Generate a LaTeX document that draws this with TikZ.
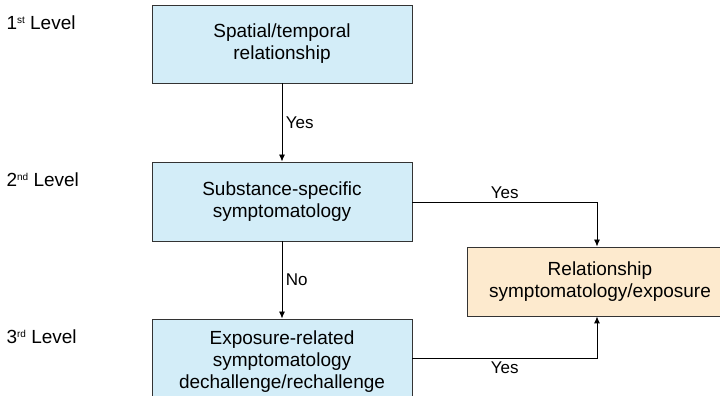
\documentclass[tikz,border=0pt]{standalone}
\usepackage{fontspec}
\setmainfont{Liberation Sans}
\usetikzlibrary{positioning,arrows.meta}
\definecolor{skyfill}{RGB}{211,237,248}
\definecolor{sandfill}{RGB}{253,234,206}
\newcommand{\lvsup}[1]{\raisebox{6pt}{\fontsize{10}{10}\selectfont #1}}
\tikzset{
  levelbox/.style={draw=black!80,line width=0.9pt,fill=skyfill,minimum width=260pt,align=center,font=\fontsize{19}{22}\selectfont},
  resultbox/.style={levelbox,fill=sandfill,minimum width=266pt,minimum height=69pt},
  levellabel/.style={anchor=west,font=\fontsize{19}{22}\selectfont},
  edgelabel/.style={font=\fontsize{17}{20}\selectfont},
  flow/.style={-{Latex[length=7pt,width=6pt]},line width=0.9pt}
}
\begin{document}
\begin{tikzpicture}[x=1pt,y=1pt]
\useasboundingbox (0,0) rectangle (720,396);
\clip (0,0) rectangle (720,396);

\node[levelbox,minimum height=78pt] (spatial) at (282,352) {Spatial/temporal\\relationship};
\node[levelbox,minimum height=79pt] (specific) at (282,194.5) {Substance-specific\\symptomatology};
\node[levelbox,minimum height=86pt] (exposure) at (282,34) {Exposure-related\\symptomatology\\dechallenge/rechallenge};
\node[resultbox] (relation) at (600,114.5) {Relationship\\symptomatology/exposure};

\node[levellabel] (first) at (3,373) {1\lvsup{st} Level};
\node[levellabel] (second) at (3,216) {2\lvsup{nd} Level};
\node[levellabel] (third) at (3,59) {3\lvsup{rd} Level};

\coordinate (upper) at (597,194);
\coordinate (lower) at (597,38);

\draw[flow] (spatial) -- node[edgelabel,right] {Yes} (specific);
\draw[flow] (specific) -- node[edgelabel,right] {No} (exposure);
\draw[flow] (specific.east |- upper) -- node[edgelabel,above] {Yes} (upper) -- (relation.north -| upper);
\draw[flow] (exposure.east |- lower) -- node[edgelabel,below] {Yes} (lower) -- (relation.south -| lower);

\end{tikzpicture}
\end{document}
